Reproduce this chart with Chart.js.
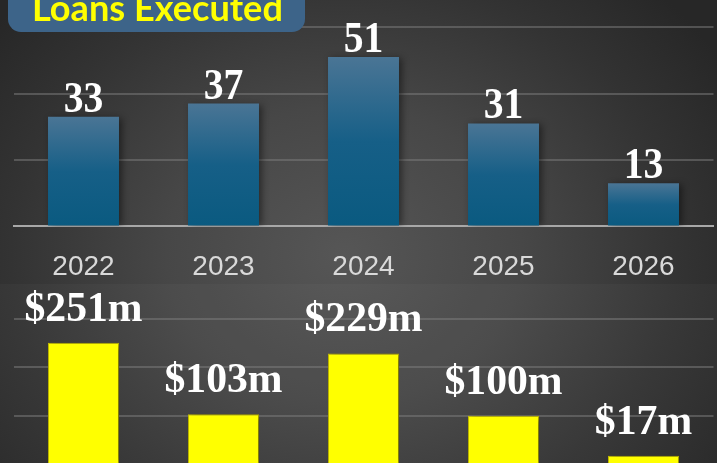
<!DOCTYPE html>
<html><head><meta charset="utf-8">
<script src="https://cdn.jsdelivr.net/npm/chart.js@4.4.1/dist/chart.umd.min.js"></script>
<style>
html,body{margin:0;padding:0;width:717px;height:463px;overflow:hidden;}
body{position:relative;background:radial-gradient(ellipse 62% 80% at 48% 55%, #565656 0%, #474747 40%, #333333 75%, #272727 100%);}
#topc{position:absolute;left:0;top:-6px;}
#botc{position:absolute;left:0;top:284px;background:rgba(255,255,255,0.025);}
#title{position:absolute;left:8px;top:-14px;width:297px;height:46px;background:#3d6489;border-radius:13px;}
#title span{position:absolute;left:24px;white-space:nowrap;color:#ffff00;font-family:Lato,"Open Sans",sans-serif;font-weight:700;line-height:1;}
</style></head>
<body>
<canvas id="topc" width="717" height="314"></canvas>
<canvas id="botc" width="717" height="190"></canvas>
<div id="title"><span id="tt">Loans Executed</span></div>
<script>
const categories = ['2022', '2023', '2024', '2025', '2026'];
const loanCounts = [33, 37, 51, 31, 13];
const loanAmounts = [251, 103, 229, 100, 17];
const countGrid = [20, 40, 60];
const amountGrid = [100, 200, 300];
const titleText = 'Loans Executed';

(function(){
  const span = document.getElementById('tt');
  span.textContent = titleText;
  const c = document.createElement('canvas').getContext('2d');
  c.font = '700 100px Lato';
  const w = c.measureText(titleText).width;
  const size = 100 * 251 / w;
  span.style.fontSize = size + 'px';
  const asc = 0.987 * size, half = (size - 1.2 * size) / 2;
  span.style.top = (21.5 + 14 - (half + asc)) + 'px';
})();

function labelPlugin(fontSpec, sx, fmt, offset) {
  return {
    id: 'lbl',
    beforeDatasetsDraw(chart) {
      const ctx = chart.ctx;
      ctx.save();
      ctx.shadowColor = 'rgba(0,0,0,0.45)';
      ctx.shadowBlur = 7;
      ctx.shadowOffsetX = 3;
      ctx.shadowOffsetY = 1;
    },
    afterDatasetsDraw(chart) {
      const ctx = chart.ctx;
      ctx.restore();
      const meta = chart.getDatasetMeta(0);
      const data = chart.data.datasets[0].data;
      meta.data.forEach((bar, i) => {
        ctx.save();
        ctx.font = fontSpec;
        ctx.fillStyle = '#ffffff';
        ctx.textAlign = 'center';
        ctx.textBaseline = 'alphabetic';
        ctx.translate(bar.x, bar.y - offset);
        ctx.scale(sx, 1);
        ctx.fillText(fmt(data[i]), 0, 0);
        ctx.restore();
      });
    }
  };
}

function gridColor(list) {
  return (c) => (c.tick && list.includes(c.tick.value)) ? 'rgba(125,125,125,0.5)' : 'rgba(0,0,0,0)';
}

const blueFill = (c) => {
  const ch = c.chart;
  if (!ch.chartArea || c.type !== 'data') return '#0b5a80';
  const y = ch.scales.y;
  const top = y.getPixelForValue(c.raw);
  const base = y.getPixelForValue(0);
  const g = ch.ctx.createLinearGradient(0, top, 0, base);
  g.addColorStop(0, '#4a7595');
  g.addColorStop(0.5, '#165f87');
  g.addColorStop(1, '#0a5a80');
  return g;
};

new Chart(document.getElementById('topc'), {
  type: 'bar',
  data: { labels: categories, datasets: [{ data: loanCounts, backgroundColor: blueFill, borderWidth: 0,
    categoryPercentage: 1, barPercentage: 0.507 }] },
  options: {
    responsive: false, animation: false, devicePixelRatio: 1,
    layout: { padding: { left: 13.5, right: 3.5, top: 0, bottom: 0 } },
    plugins: { legend: { display: false }, tooltip: { enabled: false } },
    scales: {
      x: { z: 1, grid: { display: false, drawTicks: false },
        border: { display: true, color: '#a8a8a8', width: 2 },
        ticks: { color: '#d9d9d9', padding: 24, font: { family: '"Liberation Sans", Arial, sans-serif', size: 28 } } },
      y: { min: 0, max: 70, ticks: { display: false, stepSize: 20 },
        border: { display: false },
        grid: { drawTicks: false, color: gridColor(countGrid), lineWidth: 2 } }
    }
  },
  plugins: [labelPlugin('bold 44px "Liberation Serif", "Times New Roman", serif', 0.9, v => String(v), 5)]
});

new Chart(document.getElementById('botc'), {
  type: 'bar',
  data: { labels: categories, datasets: [{ data: loanAmounts, backgroundColor: '#ffff00', borderColor: '#c9c000', borderWidth: 1,
    categoryPercentage: 1, barPercentage: 0.507 }] },
  options: {
    responsive: false, animation: false, devicePixelRatio: 1,
    layout: { padding: { left: 13.5, right: 3.5, top: 11, bottom: 10 } },
    plugins: { legend: { display: false }, tooltip: { enabled: false } },
    scales: {
      x: { display: false },
      y: { min: 0, max: 350, ticks: { display: false, stepSize: 100 },
        border: { display: false },
        grid: { drawTicks: false, color: gridColor(amountGrid), lineWidth: 2 } }
    }
  },
  plugins: [labelPlugin('bold 43px "Liberation Serif", "Times New Roman", serif', 0.97, v => '$' + v + 'm', 22)]
});
</script>
</body></html>
